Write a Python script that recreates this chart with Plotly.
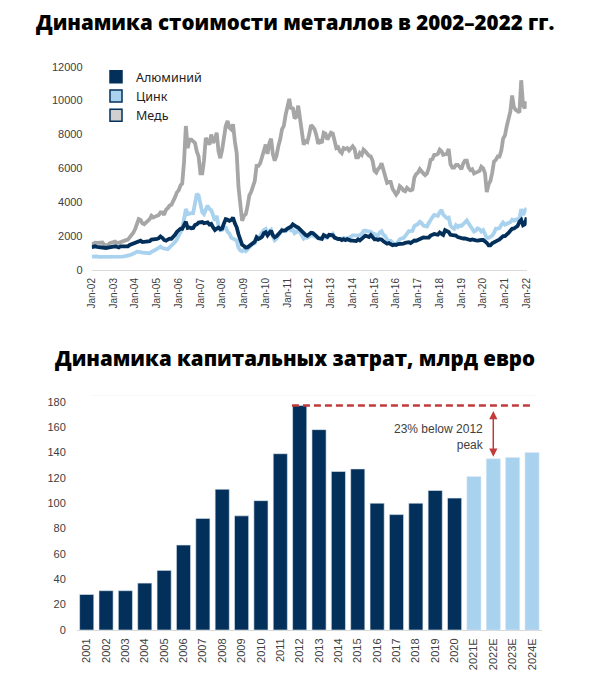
import plotly.graph_objects as go
import pandas as pd

# --- top chart: metal prices, USD/t, monthly values ---
price_start = "2002-01-01"
copper = [
    1500, 1560, 1610, 1600, 1610, 1650, 1620, 1480, 1480, 1450, 1590, 1600,
    1650, 1680, 1600, 1600, 1650, 1680, 1710, 1760, 1790, 1920, 2050, 2200,
    2420, 2750, 3000, 2950, 2750, 2700, 2800, 2850, 3000, 3200, 3100, 3150,
    3200, 3250, 3400, 3400, 3250, 3550, 3650, 3800, 3850, 4050, 4300, 4580,
    4700, 5000, 5100, 6400, 8500, 7200, 7700, 7700, 7600, 7500, 7000, 6700,
    5700, 5700, 6450, 7800, 7600, 7400, 8000, 7500, 7700, 8100, 7000, 6600,
    7100, 7900, 8500, 8800, 8400, 8300, 8600, 7600, 6900, 4900, 3700, 2900,
    3200, 3300, 3750, 4400, 4600, 5000, 5250, 6150, 6150, 6300, 6700, 7000,
    7400, 6850, 7450, 7750, 6850, 6450, 6750, 7300, 7700, 8300, 8500, 9150,
    9700, 10100, 9500, 9600, 8950, 9050, 9700, 9000, 8300, 7400, 7600, 7550,
    8000, 8550, 8450, 8300, 7950, 7450, 7600, 7500, 8100, 8050, 7700, 7950,
    8100, 8050, 7650, 7200, 7250, 7000, 6900, 7200, 7150, 7200, 7050, 7200,
    7300, 7150, 6650, 6650, 6900, 6800, 7100, 7000, 6850, 6750, 6700, 6450,
    5850, 5750, 5950, 6050, 6300, 5850, 5450, 5150, 5200, 5200, 4800, 4650,
    4450, 4600, 4950, 4850, 4700, 4650, 4850, 4750, 4700, 4750, 5450, 5650,
    5750, 5950, 5800, 5700, 5600, 5700, 6000, 6500, 6550, 6800, 6800, 6850,
    7100, 7000, 6800, 6850, 6850, 7150, 6250, 6050, 6050, 6200, 6200, 6100,
    5950, 6300, 6450, 6450, 6050, 5900, 5950, 5700, 5750, 5750, 5850, 6100,
    6000, 5700, 4600, 5050, 5250, 5750, 6400, 6500, 6700, 6700, 7050, 7750,
    7950, 8500, 9000, 9350, 10300, 9600, 9450, 9400, 9300, 11200, 9700, 9550,
    9950,
]
zinc = [
    790, 800, 820, 800, 780, 780, 800, 780, 770, 760, 760, 750,
    780, 790, 780, 770, 780, 790, 810, 820, 820, 880, 920, 1000,
    1020, 1080, 1080, 1050, 1020, 1010, 1030, 990, 990, 1070, 1100, 1180,
    1240, 1330, 1380, 1300, 1250, 1250, 1230, 1330, 1400, 1500, 1650, 1800,
    2100, 2240, 2420, 3100, 3600, 3300, 3350, 3360, 3360, 3900, 4500, 4400,
    3800, 3400, 3300, 3600, 3800, 3600, 3530, 3240, 2920, 3200, 2600, 2350,
    2360, 2520, 2500, 2250, 2150, 1910, 1850, 1740, 1740, 1310, 1150, 1100,
    1200, 1110, 1220, 1400, 1490, 1560, 1580, 1820, 1880, 2070, 2200, 2370,
    2430, 2160, 2270, 2370, 1970, 1750, 1840, 2050, 2150, 2370, 2290, 2280,
    2380, 2480, 2340, 2370, 2170, 2240, 2400, 2200, 2070, 1850, 1930, 1910,
    1980, 2060, 2040, 2000, 1930, 1860, 1850, 1820, 2010, 1900, 1910, 2040,
    2030, 2130, 1940, 1860, 1830, 1840, 1840, 1900, 1850, 1880, 1870, 1970,
    2040, 2040, 2010, 2030, 2060, 2130, 2310, 2330, 2290, 2270, 2250, 2170,
    2110, 2090, 2030, 2220, 2290, 2080, 2000, 1810, 1710, 1730, 1580, 1530,
    1520, 1710, 1820, 1870, 1880, 2000, 2200, 2290, 2290, 2310, 2590, 2640,
    2720, 2850, 2780, 2620, 2600, 2570, 2770, 2980, 3120, 3250, 3230, 3200,
    3420, 3550, 3270, 3190, 3060, 3090, 2630, 2500, 2430, 2640, 2530, 2620,
    2600, 2700, 2850, 2930, 2750, 2600, 2450, 2270, 2330, 2460, 2410, 2270,
    2350, 2100, 1900, 1900, 1980, 2030, 2200, 2440, 2440, 2480, 2660, 2800,
    2680, 2740, 2800, 2820, 2970, 2910, 2960, 3000, 3040, 3600, 3250, 3500,
    3650,
]
aluminium = [
    1350, 1380, 1400, 1370, 1350, 1350, 1340, 1300, 1300, 1320, 1360, 1370,
    1380, 1400, 1390, 1330, 1400, 1400, 1420, 1420, 1400, 1480, 1520, 1560,
    1600, 1680, 1680, 1730, 1650, 1650, 1680, 1690, 1700, 1800, 1800, 1850,
    1830, 1880, 1980, 1900, 1770, 1730, 1800, 1850, 1840, 1940, 2080, 2250,
    2380, 2440, 2430, 2620, 2850, 2480, 2510, 2460, 2480, 2660, 2700, 2800,
    2800, 2830, 2760, 2810, 2810, 2680, 2720, 2520, 2360, 2440, 2500, 2400,
    2450, 2760, 3000, 2960, 2900, 2950, 3100, 2760, 2520, 2110, 1850, 1490,
    1420, 1330, 1340, 1430, 1460, 1580, 1670, 1930, 1830, 1880, 1960, 2180,
    2230, 2050, 2210, 2320, 2050, 1930, 1990, 2110, 2170, 2350, 2330, 2350,
    2440, 2510, 2550, 2700, 2590, 2550, 2500, 2380, 2300, 2180, 2070, 2020,
    2150, 2200, 2180, 2050, 2000, 1890, 1880, 1840, 2060, 1970, 1950, 2080,
    2040, 2050, 1910, 1860, 1830, 1840, 1770, 1820, 1760, 1820, 1750, 1740,
    1730, 1700, 1710, 1810, 1750, 1840, 1950, 2030, 1990, 1950, 2060, 1910,
    1810, 1820, 1770, 1820, 1800, 1690, 1640, 1550, 1590, 1520, 1470, 1500,
    1480, 1530, 1530, 1570, 1550, 1600, 1630, 1640, 1590, 1660, 1740, 1730,
    1790, 1860, 1900, 1920, 1910, 1890, 1910, 2030, 2100, 2130, 2100, 2080,
    2210, 2150, 2070, 2350, 2300, 2240, 2080, 2050, 2030, 2030, 1940, 1920,
    1850, 1860, 1870, 1850, 1780, 1770, 1800, 1750, 1750, 1730, 1770, 1770,
    1770, 1690, 1610, 1460, 1460, 1570, 1640, 1740, 1750, 1800, 1940, 2000,
    2000, 2080, 2190, 2320, 2430, 2450, 2510, 2600, 2850, 2960, 2640, 2700,
    3100,
]
metal_names = ["Алюминий", "Цинк", "Медь"]
tick_years = list(range(2002, 2023))

# --- bottom chart: capex, bn EUR ---
capex_years = ["2001", "2002", "2003", "2004", "2005", "2006", "2007", "2008",
               "2009", "2010", "2011", "2012", "2013", "2014", "2015", "2016",
               "2017", "2018", "2019", "2020", "2021E", "2022E", "2023E",
               "2024E"]
capex = [28, 31, 31, 37, 47, 67, 88, 111, 90, 102, 139, 177, 158, 125, 127,
         100, 91, 100, 110, 104, 121, 135, 136, 140]

NAVY = "#03305a"
LIGHT = "#a9d2ef"
GREY = "#a6a6a6"
RED = "#c23b3b"
TICK_FONT = dict(family="Liberation Sans, Arial", size=11, color="#404040")
TITLE_FONT = dict(family="Open Sans", size=20.5, color="#000000", weight=800)

# the page puts the figure 8px in from the top-left corner
OFF = 8
W, H = 590 - OFF, 677 - OFF


def px(x):
    return (x - OFF) / W


def py(y):
    return 1 - (y - OFF) / H


dates = pd.date_range(price_start, periods=len(copper), freq="MS")

fig = go.Figure()

fig.add_trace(go.Scatter(x=dates, y=copper, mode="lines",
                         line=dict(color=GREY, width=3.8),
                         showlegend=False, xaxis="x", yaxis="y"))
fig.add_trace(go.Scatter(x=dates, y=zinc, mode="lines",
                         line=dict(color=LIGHT, width=3.8),
                         showlegend=False, xaxis="x", yaxis="y"))
fig.add_trace(go.Scatter(x=dates, y=aluminium, mode="lines",
                         line=dict(color=NAVY, width=3.8),
                         showlegend=False, xaxis="x", yaxis="y"))

# legend squares like the source
for name, fill in zip(metal_names, [NAVY, LIGHT, "#d0d0d0"]):
    fig.add_trace(go.Scatter(x=[None], y=[None], mode="markers", name=name,
                             marker=dict(symbol="square", size=12, color=fill,
                                         line=dict(color=NAVY, width=1.5)),
                             xaxis="x", yaxis="y"))

bar_colors = [LIGHT if y.endswith("E") else NAVY for y in capex_years]
fig.add_trace(go.Bar(x=capex_years, y=capex, marker_color=bar_colors,
                     marker_line=dict(color="#dfe9f3", width=0.6),
                     showlegend=False, xaxis="x2", yaxis="y2"))

# peak line + arrow to 2022E
peak = max(capex)
i_peak = capex.index(peak)
i_arrow = capex_years.index("2022E")
fig.add_shape(type="line", xref="x2", yref="y2",
              x0=i_peak - 0.4, x1=len(capex) - 1, y0=peak, y1=peak,
              line=dict(color=RED, width=2.5, dash="7px,4px"))
fig.add_shape(type="line", xref="x2 domain", yref="y2",
              x0=0.03, x1=0.985, y0=185, y1=185,
              line=dict(color="#ececec", width=1))
fig.add_annotation(x=i_arrow, y=capex[i_arrow], ax=i_arrow, ay=peak,
                   xref="x2", yref="y2", axref="x2", ayref="y2",
                   text="", showarrow=True, arrowhead=2, arrowsize=1.1,
                   arrowwidth=1.5, arrowcolor=RED, arrowside="end+start",
                   standoff=2, startstandoff=4)
fig.add_annotation(x=i_arrow, y=(peak + capex[i_arrow]) / 2 - 4,
                   xref="x2", yref="y2", xshift=-7,
                   text="23% below 2012<br>peak", showarrow=False,
                   xanchor="right", yanchor="middle", align="right",
                   font=dict(family="Liberation Sans, Arial", size=12,
                             color="#404040"))

# titles
fig.add_annotation(x=px(295), y=py(22), xref="paper", yref="paper",
                   xanchor="center", yanchor="middle",
                   text="Динамика стоимости металлов в 2002–2022 гг.",
                   showarrow=False, font=TITLE_FONT)
fig.add_annotation(x=px(295), y=py(358), xref="paper", yref="paper",
                   xanchor="center", yanchor="middle",
                   text="Динамика капитальных затрат, млрд евро",
                   showarrow=False, font=TITLE_FONT)

fig.update_layout(
    width=W, height=H,
    margin=dict(l=0, r=0, t=0, b=0, autoexpand=False),
    paper_bgcolor="white", plot_bgcolor="white",
    bargap=0.27,
    legend=dict(x=px(96), y=py(62), xanchor="left", yanchor="top",
                bgcolor="rgba(0,0,0,0)", tracegroupgap=0,
                font=dict(family="Noto Sans", size=12.5, color="#222222")),
    xaxis=dict(domain=[px(91.7), px(526.7)], type="date", anchor="y",
               range=[dates[0], dates[-1]],
               tickvals=[pd.Timestamp(f"{y}-01-01") for y in tick_years],
               ticktext=[f"Jan-{y % 100:02d}" for y in tick_years],
               tickangle=-90, tickfont=dict(TICK_FONT, size=10),
               showgrid=False, zeroline=False, showline=True,
               linecolor="#dadada", linewidth=1,
               ticks="outside", ticklen=3, tickcolor="white"),
    yaxis=dict(domain=[py(270), py(66.7)], range=[0, 12000],
               anchor="x", tickformat="d",
               tickvals=list(range(0, 12001, 2000)), tickfont=TICK_FONT,
               showgrid=False, zeroline=False,
               ticks="outside", ticklen=6, tickcolor="white"),
    xaxis2=dict(domain=[px(77), px(541.7)], type="category", anchor="y2",
                tickangle=-90, tickfont=TICK_FONT, showgrid=False,
                showline=True, linecolor="#dadada", linewidth=1,
                ticks="outside", ticklen=3, tickcolor="white"),
    yaxis2=dict(domain=[py(630), py(395.4)], range=[0, 185],
                anchor="x2",
                tickvals=list(range(0, 181, 20)), tickfont=TICK_FONT,
                showgrid=False, zeroline=False,
                ticks="outside", ticklen=8, tickcolor="white"),
)

fig.write_html("out.html")
